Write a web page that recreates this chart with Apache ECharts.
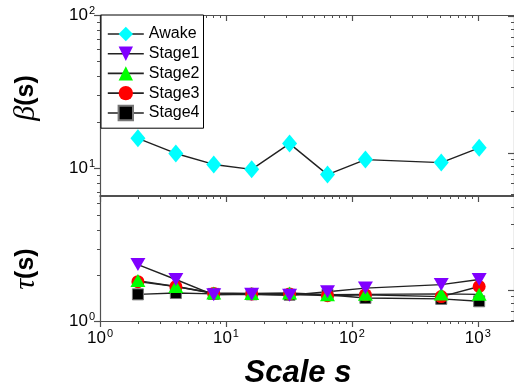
<!DOCTYPE html>
<html><head><meta charset="utf-8">
<script src="https://cdn.jsdelivr.net/npm/echarts@6/dist/echarts.min.js"></script>
<style>html,body{margin:0;padding:0;background:#fff}#c{width:514px;height:392px}</style>
</head><body><div id="c"></div>
<script>
// ---- data ----
const scales = [2, 4, 8, 16, 32, 64, 128, 512, 1024];
const awake  = [15.7, 12.5, 10.6, 9.85, 14.5, 9.1, 11.4, 10.9, 13.6];
const stage1 = [2.36, 1.88, 1.49, 1.50, 1.48, 1.56, 1.65, 1.74, 1.88];
const stage2 = [1.85, 1.69, 1.53, 1.52, 1.53, 1.49, 1.50, 1.51, 1.50];
const stage3 = [1.82, 1.69, 1.52, 1.51, 1.51, 1.47, 1.49, 1.45, 1.69];
const stage4 = [1.50, 1.53, 1.51, 1.50, 1.49, 1.49, 1.42, 1.40, 1.35];
const seriesNames = ['Awake', 'Stage1', 'Stage2', 'Stage3', 'Stage4'];
const xMajor = [1, 10, 100, 1000];
const xMinor = [2,3,4,5,6,7,8,9,20,30,40,50,60,70,80,90,200,300,400,500,600,700,800,900];
const yMajorTop = [10, 100];
const yMinorTop = [7, 8, 9, 20, 30, 40, 50, 60, 70, 80, 90];
const yMajorBot = [1];
const yMinorBot = [2, 3, 4, 5, 6];
const rMajorTop = [10, 100];
const rMinorTop = [5, 6, 7, 8, 9, 20, 30, 40, 50, 60, 70, 80, 90];
const rMajorBot = [1];
const rMinorBot = [0.6, 0.7, 0.8, 0.9, 2, 3, 4];

// ---- layout / style ----
const XMIN = 1, XMAX = 1936;
const YSPLIT = 6.7;
const FRAME = '#505050';
const FONT = '"Liberation Sans", Arial, sans-serif';
const rich = {
  b: {fontSize: 17, fontFamily: FONT, color: '#000'},
  s: {fontSize: 11, fontFamily: FONT, color: '#000', verticalAlign: 'bottom', padding: [0, 0, 9, 1]}
};
function pow10(v) {
  const e = Math.round(Math.log10(v));
  return '{b|10}{s|' + e + '}';
}
const line = {lineStyle: {color: FRAME, width: 1.2}};

function xAxesFor(g, bottomTicks) {
  const base = {type: 'log', gridIndex: g, min: XMIN, max: XMAX, splitLine: {show: false}, axisLine: line};
  return [
    Object.assign({}, base, {position: 'bottom',
      axisTick: {show: bottomTicks, customValues: xMajor, length: 6, lineStyle: {color: FRAME, width: 1.2}},
      axisLabel: {show: bottomTicks, customValues: xMajor, formatter: pow10, rich: rich, margin: 7}}),
    Object.assign({}, base, {position: 'bottom', axisLine: {show: false},
      axisTick: {show: bottomTicks, customValues: xMinor, length: 3, lineStyle: {color: FRAME}}, axisLabel: {show: false}}),
    Object.assign({}, base, {position: 'top',
      axisTick: {inside: true, customValues: xMajor, length: 6, lineStyle: {color: FRAME, width: 1.2}}, axisLabel: {show: false}}),
    Object.assign({}, base, {position: 'top', axisLine: {show: false},
      axisTick: {inside: true, customValues: xMinor, length: 3, lineStyle: {color: FRAME}}, axisLabel: {show: false}})
  ];
}
function yAxesFor(g, min, max, major, minor, rmin, rmax, rmajor, rminor) {
  const base = {type: 'log', gridIndex: g, splitLine: {show: false}, axisLine: line};
  return [
    Object.assign({}, base, {min: min, max: max, position: 'left',
      axisTick: {customValues: major, length: 6, lineStyle: {color: FRAME, width: 1.2}},
      axisLabel: {customValues: major, formatter: pow10, rich: rich, margin: 5}}),
    Object.assign({}, base, {min: min, max: max, position: 'left', axisLine: {show: false},
      axisTick: {customValues: minor, length: 3, lineStyle: {color: FRAME}}, axisLabel: {show: false}}),
    Object.assign({}, base, {min: rmin, max: rmax, position: 'right',
      axisTick: {inside: true, customValues: rmajor, length: 6, lineStyle: {color: FRAME, width: 1.2}}, axisLabel: {show: false}}),
    Object.assign({}, base, {min: rmin, max: rmax, position: 'right', axisLine: {show: false},
      axisTick: {inside: true, customValues: rminor, length: 3, lineStyle: {color: FRAME}}, axisLabel: {show: false}})
  ];
}

function pairs(ys) { return scales.map((x, i) => [x, ys[i]]); }
function mkSeries(name, ys, grid, symbol, size, color, extra) {
  return Object.assign({
    name: name, type: 'line', data: pairs(ys),
    xAxisIndex: grid * 4, yAxisIndex: grid * 4,
    symbol: symbol, symbolSize: size, showAllSymbol: true,
    itemStyle: {color: color, opacity: 1},
    lineStyle: {color: '#222', width: 1.4},
    emphasis: {disabled: true}, animation: false
  }, extra || {});
}

const chart = echarts.init(document.getElementById('c'), null, {renderer: 'canvas'});
chart.setOption({
  backgroundColor: '#fff',
  animation: false,
  grid: [
    {left: 100, right: -1, top: 15, height: 180},
    {left: 100, right: -1, top: 196, height: 125}
  ],
  xAxis: xAxesFor(0, false).concat(xAxesFor(1, true)),
  yAxis: yAxesFor(0, YSPLIT, 100, yMajorTop, yMinorTop, 4.93, 101.7, rMajorTop, rMinorTop)
    .concat(yAxesFor(1, 1, YSPLIT, yMajorBot, yMinorBot, 0.594, 4.85, rMajorBot, rMinorBot)),
  legend: {
    data: seriesNames,
    orient: 'vertical', left: 101, top: 15,
    padding: [11, 4, 7, 6], itemGap: 3.7, itemWidth: 36, itemHeight: 18,
    borderColor: '#000', borderWidth: 1, backgroundColor: '#fff',
    lineStyle: {width: 1.6},
    textStyle: {fontFamily: FONT, fontSize: 16, color: '#000', lineHeight: 16},
    selectedMode: false, z: 10
  },
  series: [
    mkSeries('Awake', awake, 0, 'diamond', [15, 18], '#00FFFF'),
    mkSeries('Stage4', stage4, 1, 'rect', 11, '#000', {itemStyle: {color: '#000', borderColor: '#777', borderWidth: 1}}),
    mkSeries('Stage3', stage3, 1, 'circle', 13, '#FF0000'),
    mkSeries('Stage2', stage2, 1, 'triangle', [15, 13], '#00FF00'),
    mkSeries('Stage1', stage1, 1, 'triangle', [15, 13], '#8000FF', {symbolRotate: 180})
  ],
  graphic: [
    {type: 'text', x: 26, y: 98, rotation: Math.PI / 2,
      style: {text: '{g|β}{p|(s)}', align: 'center', verticalAlign: 'middle',
        rich: {g: {fontFamily: '"Liberation Serif", serif', fontStyle: 'italic', fontSize: 30, fill: '#000'},
               p: {fontFamily: FONT, fontWeight: 'bold', fontSize: 25, fill: '#000'}}}},
    {type: 'text', x: 26, y: 269, rotation: Math.PI / 2,
      style: {text: '{g|τ}{p|(s)}', align: 'center', verticalAlign: 'middle',
        rich: {g: {fontFamily: '"Liberation Serif", serif', fontStyle: 'italic', fontSize: 30, fill: '#000'},
               p: {fontFamily: FONT, fontWeight: 'bold', fontSize: 25, fill: '#000'}}}},
    {type: 'text', x: 298, y: 373,
      style: {text: 'Scale s', align: 'center', verticalAlign: 'middle',
        font: 'italic bold 31px "Liberation Sans", Arial, sans-serif', fill: '#000'}}
  ]
});
</script></body></html>
